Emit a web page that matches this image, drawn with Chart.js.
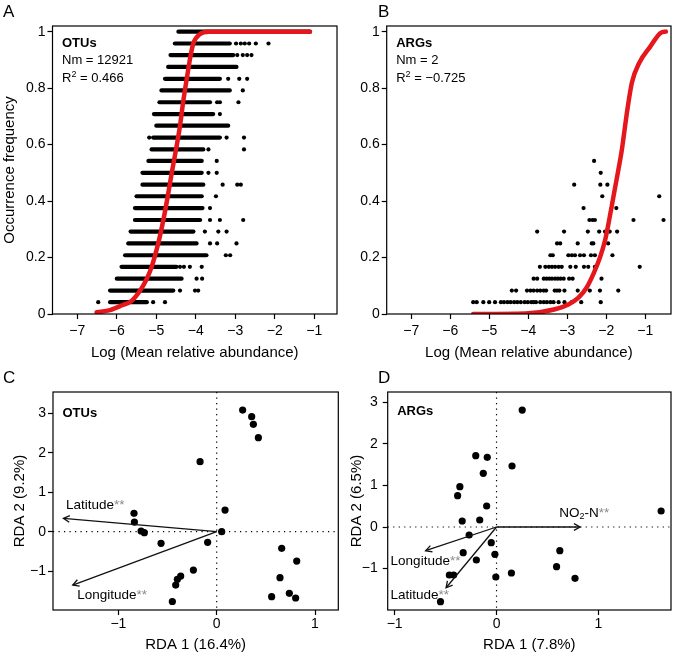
<!DOCTYPE html>
<html>
<head>
<meta charset="utf-8">
<title>Neutral model fit and RDA</title>
<script src="https://cdn.jsdelivr.net/npm/chart.js@4.4.1/dist/chart.umd.min.js"></script>
<style>
  html, body { margin: 0; padding: 0; background: #fff; }
  #wrap { position: relative; width: 675px; height: 655px; }
  #wrap canvas { position: absolute; left: 0; top: 0; }
</style>
</head>
<body>
<div id="wrap">
  <canvas id="chart-a" width="675" height="655"></canvas>
  <canvas id="chart-b" width="675" height="655"></canvas>
  <canvas id="chart-c" width="675" height="655"></canvas>
  <canvas id="chart-d" width="675" height="655"></canvas>
</div>
<script>
'use strict';

// ---- A: OTUs, occurrence frequency vs log mean relative abundance ----
var aLevels  = [0.042, 0.083, 0.125, 0.167, 0.208, 0.25, 0.292, 0.333, 0.375, 0.417, 0.458, 0.5,
                0.542, 0.583, 0.625, 0.667, 0.708, 0.75, 0.792, 0.833, 0.875, 0.917, 0.958, 1];
// dense part of every row (from / to)
var aRowFrom = [-6.17, -6.17, -6.0, -5.88, -5.79, -5.71, -5.65, -5.54, -5.54, -5.5, -5.35, -5.35,
                -5.2, -5.12, -5.08, -5.0, -5.06, -4.92, -4.87, -4.78, -4.7, -4.64, -4.53, -4.44];
var aRowTo   = [-5.24, -4.57, -4.36, -4.49, -3.73, -3.98, -4.06, -3.89, -3.83, -3.85, -3.81, -3.85,
                -3.85, -3.81, -3.39, -3.18, -3.56, -3.64, -3.14, -3.39, -2.97, -3.05, -3.14, -1.11];
// loose points outside the dense part
var aExtra = [
  [-6.47, -5.08, -4.78],
  [-4.40, -4.02, -3.94],
  [-3.98, -3.84],
  [-4.40, -4.30, -4.15, -3.85],
  [-3.24, -3.13],
  [-3.64, -3.46, -2.97],
  [-3.77, -3.43, -3.22],
  [-3.64, -3.39, -2.80],
  [-3.64],
  [-3.49],
  [-3.32, -2.95, -2.86],
  [-3.68, -3.47],
  [-3.47],
  [-3.68, -2.78],
  [-5.18, -3.22, -2.78],
  [],
  [-3.39],
  [-3.46, -3.39, -2.92],
  [-2.81],
  [-3.18, -2.90, -2.70],
  [],
  [-2.95, -2.81, -2.70, -2.59],
  [-2.98, -2.86, -2.76, -2.65, -2.48, -2.16],
  []
];
var aCurveX = [-6.51, -6.17, -5.88, -5.62, -5.41, -5.24, -5.12, -4.95, -4.82, -4.71, -4.61,
               -4.50, -4.40, -4.32, -4.23, -4.13, -4.06, -3.89, -3.68, -1.11];
var aCurveY = [0.006, 0.014, 0.030, 0.047, 0.083, 0.125, 0.166, 0.251, 0.334, 0.417, 0.499,
               0.583, 0.666, 0.751, 0.832, 0.917, 0.959, 0.992, 1.0, 1.0];
var aNotes = ['OTUs', 'Nm = 12921', 'R\u00b2 = 0.466'];

// ---- B: ARGs ----
var bLevels = [0.042, 0.083, 0.125, 0.167, 0.208, 0.25, 0.292, 0.333, 0.375, 0.417, 0.458, 0.5, 0.542];
var bRowX = [
  [-5.41, -5.32, -5.15, -5.0, -4.85, -4.70, -4.62, -4.53, -4.45, -4.36, -4.28, -4.19, -4.09, -4.01,
   -3.92, -3.86, -3.80, -3.69, -3.60, -3.52, -3.43, -3.35, -3.22, -3.07, -2.88, -2.64, -2.14],
  [-4.42, -4.31, -4.03, -3.94, -3.86, -3.77, -3.69, -3.60, -3.54, -3.32, -3.26, -3.20, -3.07, -2.73,
   -2.42, -2.16, -1.69],
  [-3.86, -3.77, -3.60, -3.53, -3.46, -3.39, -3.31, -3.24, -3.17, -3.09, -2.95, -2.86, -2.12],
  [-3.70, -3.56, -3.47, -3.39, -3.31, -3.22, -3.14, -2.92, -2.78, -2.57, -2.46, -2.29, -1.14],
  [-3.43, -3.37, -2.97, -2.88, -2.80, -2.67, -2.57, -2.39, -2.29, -1.84],
  [-3.26, -3.18, -2.73, -2.37, -2.33, -1.95],
  [-3.77, -3.08, -2.47, -2.18, -2.03, -1.91, -1.72],
  [-2.43, -2.35, -2.29, -1.30, -0.53],
  [-2.58, -1.74],
  [-2.10, -0.64],
  [-2.82, -2.15, -1.97],
  [-2.14],
  [-2.31]
];
var bCurveX = [-5.41, -4.07, -3.31, -2.97, -2.71, -2.50, -2.33, -2.16, -2.03, -1.91, -1.80, -1.69,
               -1.60, -1.55, -1.45, -1.34, -1.15, -0.87, -0.60, -0.47];
var bCurveY = [0, 0.002, 0.017, 0.034, 0.058, 0.094, 0.141, 0.200, 0.260, 0.343, 0.426, 0.509,
               0.580, 0.63, 0.73, 0.82, 0.89, 0.947, 0.996, 1.0];
var bNotes = ['ARGs', 'Nm = 2', 'R\u00b2 = \u22120.725'];

var abTicksX = [-7, -6, -5, -4, -3, -2, -1];
var abTicksY = [0, 0.2, 0.4, 0.6, 0.8, 1];

// ---- C: RDA of OTUs ----
var cX = [0.264, 0.356, 0.373, 0.424, -0.169, 0.085, -0.841, -0.837, -0.769, -0.736, -0.566, -0.092,
          0.051, 0.661, 0.814, 0.644, -0.237, -0.366, -0.400, -0.417, -0.451, 0.559, 0.739, 0.803];
var cY = [3.084, 2.915, 2.721, 2.383, 1.774, 0.549, 0.465, 0.245, 0.017, -0.025, -0.296, -0.270,
          0.0, -0.422, -0.744, -1.166, -0.972, -1.124, -1.208, -1.352, -1.770, -1.648, -1.563, -1.681];
var cVecName = ['Latitude', 'Longitude'];
var cVecX = [-1.559, -1.464];
var cVecY = [0.338, -1.352];
var cLabX = [-1.235, -1.064];
var cLabY = [0.677, -1.605];

// ---- D: RDA of ARGs ----
var dX = [0.252, -0.204, -0.091, 0.152, -0.130, -0.360, -0.382, -0.097, -0.337, -0.165, -0.269, -0.052,
          -0.327, -0.016, 0.621, -0.198, 0.589, -0.463, -0.421, 0.146, -0.007, 0.770, -0.550, 1.615];
var dY = [2.81, 1.714, 1.675, 1.466, 1.290, 0.970, 0.753, 0.505, 0.144, 0.168, -0.192, -0.377,
          -0.617, -0.657, -0.569, -0.793, -0.954, -1.154, -1.154, -1.106, -1.202, -1.234, -1.795, 0.385];
var dVecName = ['NO\u2082-N', 'Longitude', 'Latitude'];
var dVecX = [0.82, -0.696, -0.495];
var dVecY = [0, -0.57, -1.46];
var dLabX = [0.86, -0.697, -0.754];
var dLabY = [0.33, -0.834, -1.63];

var rdaTicks = [-1, 0, 1];
var rdaTicksY = [-1, 0, 1, 2, 3];

// ---------------------------------------------------------------------------
var FONT = '"Liberation Sans", Arial, Helvetica, sans-serif';
var RED = '#e5171d';
var STAR = '#8a8a8a';

Chart.defaults.font.family = FONT;
Chart.defaults.color = '#000';

function minus(v) { return String(v).replace('-', '\u2212'); }

function xy(xs, ys) {
  return xs.map(function (x, i) { return { x: x, y: ys[i] }; });
}

function rowPoints(levels, rows) {
  var pts = [];
  rows.forEach(function (xs, i) {
    xs.forEach(function (x) { pts.push({ x: x, y: levels[i] }); });
  });
  return pts;
}

// text with ² / ₂ and grey significance stars
function richParts(text) {
  var parts = [], re = /(\u00b2|\u2082|\*\*)/g, last = 0, m;
  while ((m = re.exec(text))) {
    if (m.index > last) parts.push({ t: text.slice(last, m.index), k: 'n' });
    if (m[0] === '**') parts.push({ t: '**', k: 'star' });
    else parts.push({ t: '2', k: m[0] === '\u00b2' ? 'sup' : 'sub' });
    last = re.lastIndex;
  }
  if (last < text.length) parts.push({ t: text.slice(last), k: 'n' });
  return parts;
}

function drawRich(ctx, text, x, y, size, center, weight) {
  var parts = richParts(text);
  var small = Math.round(size * 0.68);
  var font = function (k) {
    return (weight || '') + ' ' + ((k === 'sup' || k === 'sub') ? small : size) + 'px ' + FONT;
  };
  var w = 0;
  parts.forEach(function (p) { ctx.font = font(p.k); p.w = ctx.measureText(p.t).width; w += p.w; });
  var cx = center ? x - w / 2 : x;
  ctx.textAlign = 'left';
  parts.forEach(function (p) {
    ctx.font = font(p.k);
    ctx.fillStyle = p.k === 'star' ? STAR : '#000';
    var dy = p.k === 'sup' ? -size * 0.36 : (p.k === 'sub' ? size * 0.25 : 0);
    ctx.fillText(p.t, cx, y + dy);
    cx += p.w;
  });
}

function panelPlugin(p) {
  return {
    id: 'panel' + p.letter,
    beforeDatasetsDraw: function (chart) {
      if (!p.zeroLines) return;
      var a = chart.chartArea, ctx = chart.ctx;
      var x0 = chart.scales.x.getPixelForValue(0), y0 = chart.scales.y.getPixelForValue(0);
      ctx.save();
      ctx.strokeStyle = '#000';
      ctx.lineWidth = 1.2;
      ctx.setLineDash([1.2, 4.3]);
      ctx.beginPath();
      ctx.moveTo(x0, a.top); ctx.lineTo(x0, a.bottom);
      ctx.moveTo(a.left, y0); ctx.lineTo(a.right, y0);
      ctx.stroke();
      ctx.restore();
    },
    afterDraw: function (chart) {
      var a = chart.chartArea, ctx = chart.ctx;
      var xs = chart.scales.x, ys = chart.scales.y;
      ctx.save();
      ctx.strokeStyle = '#000';
      ctx.lineWidth = 1.2;
      ctx.strokeRect(a.left, a.top, a.right - a.left, a.bottom - a.top);

      // arrow heads + labels
      if (p.vecX) {
        var ox = xs.getPixelForValue(0), oy = ys.getPixelForValue(0);
        ctx.strokeStyle = '#111';
        ctx.lineWidth = 1.3;
        ctx.textBaseline = 'middle';
        p.vecX.forEach(function (vx, i) {
          var ex = xs.getPixelForValue(vx), ey = ys.getPixelForValue(p.vecY[i]);
          var ang = Math.atan2(ey - oy, ex - ox), L = 7, s = 0.5;
          ctx.beginPath();
          ctx.moveTo(ex - L * Math.cos(ang - s), ey - L * Math.sin(ang - s));
          ctx.lineTo(ex, ey);
          ctx.lineTo(ex - L * Math.cos(ang + s), ey - L * Math.sin(ang + s));
          ctx.stroke();
          drawRich(ctx, p.vecName[i] + '**', xs.getPixelForValue(p.labX[i]),
                   ys.getPixelForValue(p.labY[i]), 13.5, true);
        });
      }

      // notes inside the plot
      ctx.textBaseline = 'alphabetic';
      p.notes.forEach(function (t, i) {
        drawRich(ctx, t, a.left + 9.5, a.top + p.noteY[i], 13, false, i === 0 ? 'bold' : '');
      });

      // panel letter
      ctx.font = '17px ' + FONT;
      ctx.fillStyle = '#000';
      ctx.textAlign = 'left';
      ctx.fillText(p.letter, p.letterX, p.letterY);
      ctx.restore();
    }
  };
}

function makeChart(id, p, datasets) {
  var tickGrid = { drawOnChartArea: false, drawTicks: true, tickLength: 5, tickColor: '#000', tickWidth: 1.2 };
  return new Chart(document.getElementById(id), {
    type: 'scatter',
    data: { datasets: datasets },
    plugins: [panelPlugin(p)],
    options: {
      responsive: false,
      animation: false,
      events: [],
      layout: { padding: { left: p.l - p.yw, top: p.t, right: 675 - p.r, bottom: 655 - p.b - p.xh } },
      plugins: { legend: { display: false }, tooltip: { enabled: false } },
      scales: {
        x: {
          type: 'linear', min: p.xMin, max: p.xMax,
          afterFit: function (s) { s.height = p.xh; },
          afterBuildTicks: function (s) { s.ticks = p.xTicks.map(function (v) { return { value: v }; }); },
          grid: tickGrid,
          border: { display: false },
          ticks: { font: { size: 14 }, color: '#000', padding: p.xtickPad, maxRotation: 0, autoSkip: false, callback: minus },
          title: { display: true, text: p.xTitle, font: { size: 15 }, color: '#000', padding: { top: 0, bottom: p.xtp } }
        },
        y: {
          type: 'linear', min: p.yMin, max: p.yMax,
          afterFit: function (s) { s.width = p.yw; },
          afterBuildTicks: function (s) { s.ticks = p.yTicks.map(function (v) { return { value: v }; }); },
          grid: tickGrid,
          border: { display: false },
          ticks: { font: { size: 14 }, color: '#000', padding: p.ytickPad, autoSkip: false, callback: minus },
          title: { display: !!p.yTitle, text: p.yTitle || '', font: { size: 15 }, color: '#000', padding: { top: p.ytp, bottom: 0 } }
        }
      }
    }
  });
}

function neutralDatasets(curveX, curveY, rowSets, points) {
  var sets = [{
    data: xy(curveX, curveY), showLine: true, borderColor: RED, borderWidth: 4.5,
    pointRadius: 0, cubicInterpolationMode: 'monotone', borderCapStyle: 'round', borderJoinStyle: 'round'
  }];
  rowSets.forEach(function (r) { sets.push(r); });
  sets.push({ data: points, pointRadius: 2.1, pointBackgroundColor: '#000', pointBorderWidth: 0 });
  return sets;
}

function rdaDatasets(px, py, vx, vy) {
  var sets = vx.map(function (x, i) {
    return { data: [{ x: 0, y: 0 }, { x: x, y: vy[i] }], showLine: true, borderColor: '#111',
             borderWidth: 1.3, pointRadius: 0 };
  });
  sets.push({ data: xy(px, py), pointRadius: 3.6, pointBackgroundColor: '#000', pointBorderWidth: 0 });
  return sets;
}

// A
var aRows = aLevels.map(function (y, i) {
  return { data: [{ x: aRowFrom[i], y: y }, { x: aRowTo[i], y: y }], showLine: true, borderColor: '#000',
           borderWidth: 4.2, borderCapStyle: 'round', pointRadius: 0 };
});
makeChart('chart-a', {
  letter: 'A', letterX: 3, letterY: 17,
  l: 52.5, t: 26, r: 337, b: 314, yw: 52.5, xh: 48, ytp: 1, xtp: 0, xtickPad: 3.5, ytickPad: 2,
  xMin: -7.628, xMax: -0.425, yMin: 0, yMax: 1.02, xTicks: abTicksX, yTicks: abTicksY,
  xTitle: 'Log (Mean relative abundance)', yTitle: 'Occurrence frequency',
  notes: aNotes, noteY: [20.7, 38, 55.7]
}, neutralDatasets(aCurveX, aCurveY, aRows, rowPoints(aLevels, aExtra)));

// B
makeChart('chart-b', {
  letter: 'B', letterX: 378, letterY: 17,
  l: 386.7, t: 26, r: 673.3, b: 314, yw: 40, xh: 48, ytp: 0, xtp: 0, xtickPad: 3.5, ytickPad: 2,
  xMin: -7.628, xMax: -0.338, yMin: 0, yMax: 1.02, xTicks: abTicksX, yTicks: abTicksY,
  xTitle: 'Log (Mean relative abundance)', yTitle: '',
  notes: bNotes, noteY: [20.7, 38, 55.7]
}, neutralDatasets(bCurveX, bCurveY, [], rowPoints(bLevels, bRowX)));

// C
makeChart('chart-c', {
  letter: 'C', letterX: 3, letterY: 383, zeroLines: true,
  l: 53, t: 392, r: 338.3, b: 610, yw: 53, xh: 45, ytp: 10.7, xtp: 1, xtickPad: 0.6, ytickPad: 2,
  xMin: -1.665, xMax: 1.237, yMin: -1.985, yMax: 3.541, xTicks: rdaTicks, yTicks: rdaTicksY,
  xTitle: 'RDA 1 (16.4%)', yTitle: 'RDA 2 (9.2%)',
  notes: ['OTUs'], noteY: [25],
  vecName: cVecName, vecX: cVecX, vecY: cVecY, labX: cLabX, labY: cLabY
}, rdaDatasets(cX, cY, cVecX, cVecY));

// D
makeChart('chart-d', {
  letter: 'D', letterX: 378, letterY: 383, zeroLines: true,
  l: 387.7, t: 392, r: 674, b: 610, yw: 45, xh: 45, ytp: 5, xtp: 1, xtickPad: 0.6, ytickPad: 5,
  xMin: -1.068, xMax: 1.712, yMin: -1.995, yMax: 3.245, xTicks: rdaTicks, yTicks: rdaTicksY,
  xTitle: 'RDA 1 (7.8%)', yTitle: 'RDA 2 (6.5%)',
  notes: ['ARGs'], noteY: [23],
  vecName: dVecName, vecX: dVecX, vecY: dVecY, labX: dLabX, labY: dLabY
}, rdaDatasets(dX, dY, dVecX, dVecY));
</script>
</body>
</html>
